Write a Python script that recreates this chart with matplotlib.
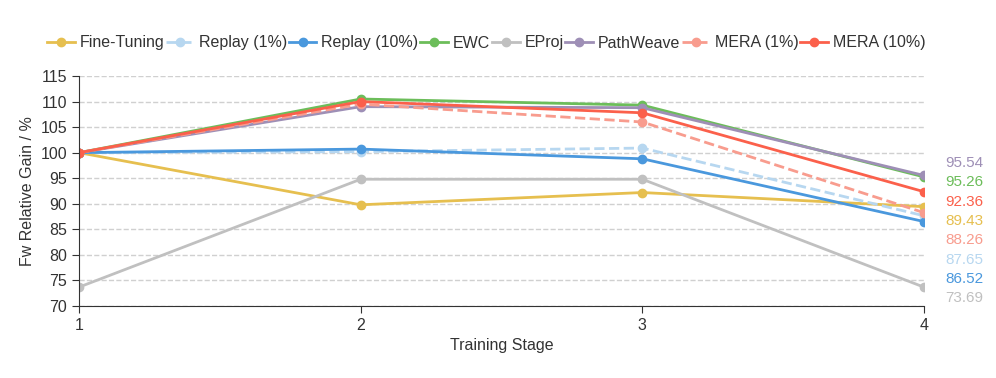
import matplotlib.pyplot as plt

plt.rcParams['font.family'] = ['Liberation Sans', 'DejaVu Sans']

stages = [1, 2, 3, 4]
fine_tuning = [100, 89.8, 92.2, 89.43]
replay_1 = [100, 100.2, 100.9, 87.65]
replay_10 = [100, 100.7, 98.8, 86.52]
ewc = [100, 110.5, 109.3, 95.26]
eproj = [73.69, 94.8, 94.8, 73.69]
pathweave = [100, 109.0, 108.8, 95.54]
mera_1 = [100, 109.5, 106.0, 88.26]
mera_10 = [100, 110.0, 107.8, 92.36]

series = [
    ("Fine-Tuning", fine_tuning, "#e6bf4f", "-"),
    ("Replay (1%)", replay_1, "#b7d7f0", "--"),
    ("Replay (10%)", replay_10, "#4a98dd", "-"),
    ("EWC", ewc, "#6cbd5a", "-"),
    ("EProj", eproj, "#c0c0c0", "-"),
    ("PathWeave", pathweave, "#9e8fb6", "-"),
    ("MERA (1%)", mera_1, "#f89c8e", "--"),
    ("MERA (10%)", mera_10, "#fb604b", "-"),
]

fig = plt.figure(figsize=(9.96, 3.78), dpi=100)
ax = fig.add_axes([79 / 996, 1 - 306 / 378, (924 - 79) / 996, (306 - 76) / 378])

for label, vals, color, ls in series:
    ax.plot(stages, vals, color=color, linestyle=ls, linewidth=2,
            marker='o', markersize=6, label=label)

# end labels, sorted top to bottom
ends = sorted(series, key=lambda s: -s[1][-1])
for i, (label, vals, color, ls) in enumerate(ends):
    ax.text(945, 378 - (163 + i * 19.3), f"{vals[-1]:.2f}", color=color, fontsize=11,
            transform=None, va='center', ha='left')

ax.set_xlim(1, 4)
ax.set_ylim(70, 115)
ax.set_xticks(stages)
ax.set_yticks(range(70, 116, 5))
ax.grid(axis='y', linestyle='--', color='#d0d0d0', linewidth=1)
ax.set_axisbelow(True)
for s in ['top', 'right']:
    ax.spines[s].set_visible(False)
for s in ['left', 'bottom']:
    ax.spines[s].set_color('#333333')
ax.tick_params(labelsize=11.5, colors='#333333', length=5)
ax.set_xlabel("Training Stage", fontsize=11.5, color='#333333')
ax.set_ylabel("Fw Relative Gain / %", fontsize=11.5, color='#333333')

fig.legend(loc='center', bbox_to_anchor=(0.488, 1 - 43 / 378), ncol=8, frameon=False,
           fontsize=11.5, handlelength=1.75, handletextpad=0.3, columnspacing=0.1,
           labelcolor='#333333')

fig.savefig("out.png", dpi=100)
